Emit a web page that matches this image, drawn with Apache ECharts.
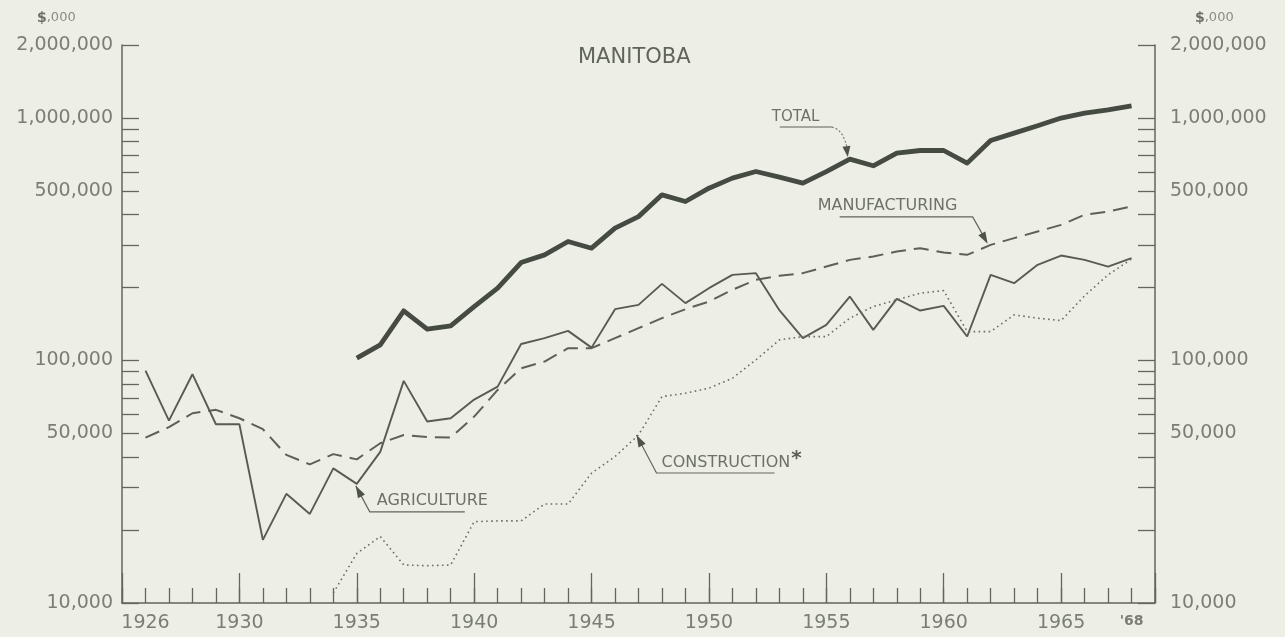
<!DOCTYPE html>
<html>
<head>
<meta charset="utf-8">
<title>Manitoba</title>
<script src="https://cdn.jsdelivr.net/npm/echarts@6.0.0/dist/echarts.min.js"></script>
<style>
html, body { margin: 0; padding: 0; background: #edefe6; }
#main { width: 1285px; height: 637px; }
</style>
</head>
<body>
<div id="main"></div>
<script>
// years 1926..1968, values in $,000 (log scale)
var years = [1926,1927,1928,1929,1930,1931,1932,1933,1934,1935,1936,1937,1938,1939,1940,
  1941,1942,1943,1944,1945,1946,1947,1948,1949,1950,1951,1952,1953,1954,1955,
  1956,1957,1958,1959,1960,1961,1962,1963,1964,1965,1966,1967,1968];

var agriculture = [90800,56500,87800,54600,54600,18200,28200,23300,35900,31000,42000,82400,56000,57800,69000,
  78000,117000,123600,132500,113000,162800,169600,207000,172400,198700,225500,229200,161300,123600,140200,
  183500,133700,179600,160700,168000,125600,225500,208400,248000,270900,260000,244000,264300];

var manufacturing = [48100,53100,60600,62600,57800,52100,40800,37300,41100,39100,45600,49300,48300,48100,58700,
  75600,92900,99000,112400,112400,123600,135900,149500,162800,175000,195600,215000,223400,229200,244000,
  260000,268400,281400,290500,278800,272700,299800,319600,340200,362600,398800,411600,431400];

// total starts in 1935
var total = [null,null,null,null,null,null,null,null,null,102200,116000,160200,134600,138900,166900,
  198800,253500,272700,309500,290500,351300,392000,482000,452400,513500,564900,601500,570600,538700,601500,
  676800,635100,716600,734500,734500,651600,807500,866500,928600,999600,1047000,1081000,1122000];

// construction starts in 1934
var construction = [null,null,null,null,null,null,null,null,11000,16000,18800,14350,14250,14350,21650,
  21800,21800,25600,25600,34300,40150,49300,71000,73300,76900,84500,100600,121600,125500,125500,
  149500,166900,177800,189600,194200,131600,131600,154200,149500,146100,184800,225500,262000];

var yLabels = [10000, 50000, 100000, 500000, 1000000, 2000000];
var yTicks = [10000,20000,30000,40000,50000,60000,70000,80000,90000,
  100000,200000,300000,400000,500000,600000,700000,800000,900000,1000000,2000000];

var inkColor = '#62665f';
var textColor = '#7a7e76';
var fontFam = 'DejaVu Sans';

function pairs(vals) {
  var out = [];
  for (var i = 0; i < years.length; i++) {
    if (vals[i] != null) out.push([years[i], vals[i]]);
  }
  return out;
}

function commas(v) {
  return String(Math.round(v)).replace(/\B(?=(\d{3})+(?!\d))/g, ',');
}

function yAxisDef(pos) {
  return {
    type: 'log',
    logBase: 10,
    min: 10000,
    max: 2000000,
    position: pos,
    axisLine: { show: true, lineStyle: { color: inkColor, width: 1.5 } },
    axisTick: { show: true, inside: true, length: 17, customValues: yTicks,
      lineStyle: { color: inkColor, width: 1.3 } },
    axisLabel: { customValues: yLabels, formatter: commas, color: textColor,
      fontFamily: fontFam, fontSize: 19, margin: pos == 'left' ? 9 : 15 },
    splitLine: { show: false }
  };
}

var myChart = echarts.init(document.getElementById('main'));

var option = {
  backgroundColor: '#edefe6',
  animation: false,
  title: {
    text: 'MANITOBA',
    left: 573,
    top: 42,
    textStyle: { fontFamily: fontFam, fontSize: 21, fontWeight: 'normal', color: '#60645d' }
  },
  grid: { left: 122, right: 130, top: 45, bottom: 34, containLabel: false },
  xAxis: [
    {
      type: 'value', min: 1925, max: 1969, interval: 1, position: 'bottom',
      axisLine: { show: true, onZero: false, lineStyle: { color: inkColor, width: 1.5 } },
      axisTick: { show: true, inside: true, length: 15, lineStyle: { color: inkColor, width: 1.3 } },
      axisLabel: {
        color: textColor, fontFamily: fontFam, fontSize: 19, margin: 11,
        formatter: function (v) {
          if (v == 1968) return "{s|'68}";
          if (v == 1926 || (v % 5 == 0 && v >= 1930 && v <= 1965)) return String(v);
          return '';
        },
        rich: { s: { fontFamily: fontFam, fontSize: 14, fontWeight: 'bold', color: textColor, padding: [0, 0, 8, 0] } }
      },
      splitLine: { show: false }
    },
    {
      type: 'value', min: 1925, max: 1969, interval: 5, position: 'bottom',
      axisLine: { show: false },
      axisTick: { show: true, inside: true, length: 30, lineStyle: { color: inkColor, width: 1.3 } },
      axisLabel: { show: false },
      splitLine: { show: false }
    }
  ],
  yAxis: [yAxisDef('left'), yAxisDef('right')],
  series: [
    {
      name: 'Total', type: 'line', data: pairs(total), symbol: 'none',
      lineStyle: { color: '#454a43', width: 4.8, join: 'round' }, z: 5
    },
    {
      name: 'Manufacturing', type: 'line', data: pairs(manufacturing), symbol: 'none',
      lineStyle: { color: '#5c6059', width: 2, type: [15, 8] }
    },
    {
      name: 'Agriculture', type: 'line', data: pairs(agriculture), symbol: 'none',
      lineStyle: { color: '#575b54', width: 1.9 }
    },
    {
      name: 'Construction', type: 'line', data: pairs(construction), symbol: 'none',
      lineStyle: { color: '#6a6e67', width: 1.6, type: [1.6, 3.4] }
    }
  ]
};

myChart.setOption(option);

// annotations anchored on data points
function px(seriesVals, year) {
  var i = years.indexOf(year);
  return myChart.convertToPixel({ xAxisIndex: 0, yAxisIndex: 0 }, [year, seriesVals[i]]);
}

function arrowHead(tip, from, len, half) {
  var dx = tip[0] - from[0], dy = tip[1] - from[1];
  var l = Math.sqrt(dx * dx + dy * dy);
  dx /= l; dy /= l;
  var bx = tip[0] - dx * len, by = tip[1] - dy * len;
  return {
    type: 'polygon',
    shape: { points: [tip, [bx - dy * half, by + dx * half], [bx + dy * half, by - dx * half]] },
    style: { fill: '#4d524b' }
  };
}

var leaderStyle = { stroke: '#62665f', lineWidth: 1.2, fill: null };
var labelFont = { fontFamily: fontFam, fontSize: 16, fill: '#6d716a' };

var g = [];

// $,000 headers
g.push({ type: 'text', left: 37, top: 11,
  style: { text: '{d|$}{k|,000}', rich: {
    d: { fontFamily: fontFam, fontSize: 14, fontWeight: 'bold', fill: '#6b6f68' },
    k: { fontFamily: fontFam, fontSize: 13, fill: '#8a8d86' } } } });
g.push({ type: 'text', left: 1195, top: 11,
  style: { text: '{d|$}{k|,000}', rich: {
    d: { fontFamily: fontFam, fontSize: 14, fontWeight: 'bold', fill: '#6b6f68' },
    k: { fontFamily: fontFam, fontSize: 13, fill: '#8a8d86' } } } });

// TOTAL
var pt = px(total, 1956);
var tTip = [pt[0] - 2, pt[1] - 2];
g.push({ type: 'text', x: pt[0] - 78, y: pt[1] - 42,
  style: Object.assign({ text: 'TOTAL', verticalAlign: 'middle' }, labelFont, { fontSize: 15 }) });
g.push({ type: 'line', shape: { x1: pt[0] - 70, y1: pt[1] - 32, x2: pt[0] - 18, y2: pt[1] - 32 },
  style: { stroke: '#a4a79f', lineWidth: 2 } });
g.push({ type: 'bezierCurve', shape: { x1: pt[0] - 18, y1: pt[1] - 32, cpx1: pt[0] - 6, cpy1: pt[1] - 30,
  x2: tTip[0], y2: tTip[1] - 6 }, style: { stroke: '#7a7e76', lineWidth: 1.2, fill: null, lineDash: [2, 2] } });
g.push(arrowHead(tTip, [pt[0] - 4, pt[1] - 18], 11, 4));

// MANUFACTURING
var pm = px(manufacturing, 1962);
var mTip = [pm[0] - 3, pm[1] - 1];
var mFrom = [pm[0] - 18, pm[1] - 28];
g.push({ type: 'text', x: pm[0] - 173, y: pm[1] - 39,
  style: Object.assign({ text: 'MANUFACTURING', verticalAlign: 'middle' }, labelFont) });
g.push({ type: 'polyline', shape: { points: [[pm[0] - 151, pm[1] - 28], mFrom, [mTip[0] - 2, mTip[1] - 4]] },
  style: leaderStyle });
g.push(arrowHead(mTip, mFrom, 12, 4));

// AGRICULTURE
var pa = px(agriculture, 1935);
var aTip = [pa[0] - 1, pa[1] + 2];
var aFrom = [pa[0] + 13, pa[1] + 28];
g.push({ type: 'text', x: pa[0] + 20, y: pa[1] + 17,
  style: Object.assign({ text: 'AGRICULTURE', verticalAlign: 'middle' }, labelFont) });
g.push({ type: 'polyline', shape: { points: [[pa[0] + 108, pa[1] + 28], aFrom, aTip] }, style: leaderStyle });
g.push(arrowHead(aTip, aFrom, 12, 4));

// CONSTRUCTION*
var pc = px(construction, 1947);
var cTip = [pc[0] - 2, pc[1]];
var cFrom = [pc[0] + 18, pc[1] + 38];
g.push({ type: 'text', x: pc[0] + 23, y: pc[1] + 28,
  style: { text: '{t|CONSTRUCTION}{s|*}', verticalAlign: 'middle', rich: {
    t: { fontFamily: fontFam, fontSize: 16, fill: '#6d716a' },
    s: { fontFamily: fontFam, fontSize: 20, fontWeight: 'bold', fill: '#5a5e57', padding: [0, 0, 8, 1] } } } });
g.push({ type: 'polyline', shape: { points: [[pc[0] + 136, pc[1] + 38], cFrom, cTip] }, style: leaderStyle });
g.push(arrowHead(cTip, cFrom, 12, 4));

myChart.setOption({ graphic: g });
window.addEventListener('resize', myChart.resize);
</script>
</body>
</html>
